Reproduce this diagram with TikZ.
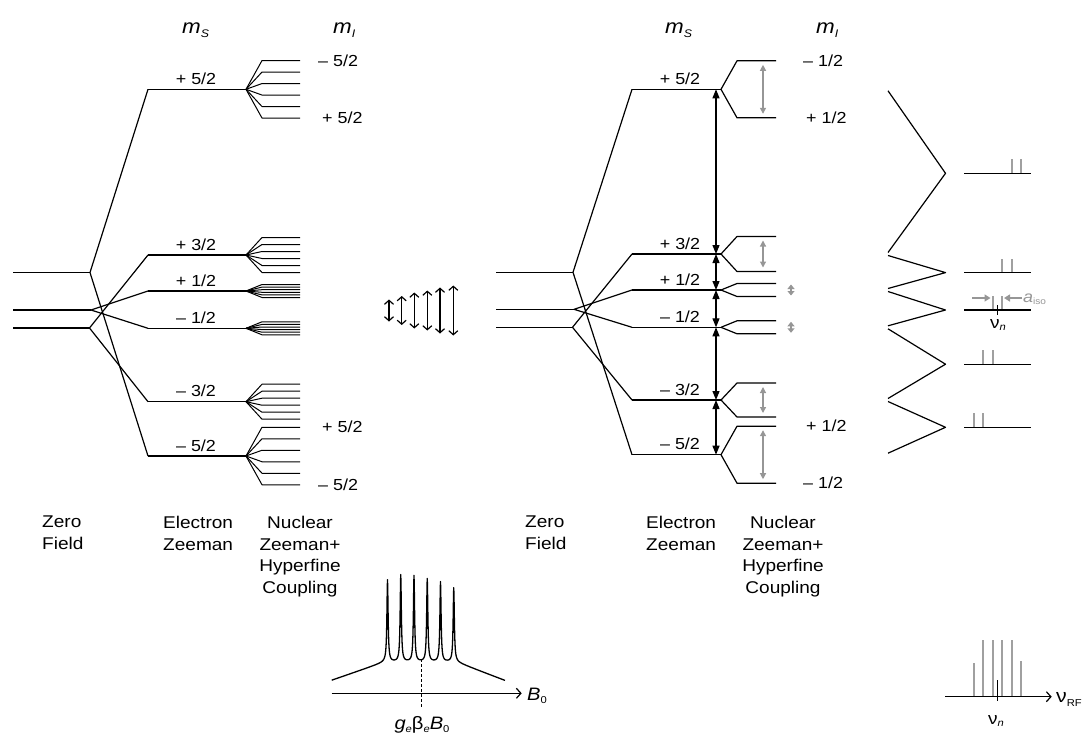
\documentclass[tikz,border=0pt]{standalone}
\usepackage{fontspec}
\setmainfont{Liberation Sans}[FakeStretch=1.12]
\usetikzlibrary{arrows.meta}
\definecolor{hfgray}{RGB}{150,150,150}
\definecolor{stickgray}{RGB}{160,160,160}
\begin{document}
\begin{tikzpicture}[x=1pt,y=-1pt,
  lvl/.style={line width=1.2pt, line join=round},
  hf/.style={line width=1pt, line join=round},
  lab/.style={font=\fontsize{16}{18}\selectfont, inner sep=0pt},
  capt/.style={font=\fontsize{17}{21.5}\selectfont, inner sep=0pt, anchor=north},
  openarr/.style={line width=1.2pt, {Straight Barb[length=4pt,width=9pt]}-{Straight Barb[length=4pt,width=9pt]}},
  axarr/.style={line width=1.2pt, -{Straight Barb[length=4.5pt,width=10pt]}},
  blkarr/.style={line width=1.2pt, {Triangle[length=9pt,width=7pt]}-{Triangle[length=9pt,width=7pt]}},
  grayarr/.style={hfgray, line width=1.2pt, {Triangle[length=6pt,width=6pt]}-{Triangle[length=6pt,width=6pt]}},
  smallarr/.style={hfgray, line width=1.2pt, {Triangle[length=4.5pt,width=7pt]}-{Triangle[length=4.5pt,width=7pt]}},
  stick/.style={stickgray, line width=2pt},
  pointarr/.style={hfgray, line width=1.8pt, -{Triangle[length=6pt,width=7pt]}}
]
\useasboundingbox (0,0) rectangle (1089,734);

% ================= LEFT DIAGRAM =================
\node[anchor=base west, inner sep=0pt] (LmS) at (182,33) {\fontsize{20}{20}\selectfont\itshape m\raisebox{-4pt}{\fontsize{11}{11}\selectfont S}};
\node[anchor=base west, inner sep=0pt] (LmI) at (333,33) {\fontsize{20}{20}\selectfont\itshape m\raisebox{-4pt}{\fontsize{11}{11}\selectfont I}};

\coordinate (LZa0) at (13,272.5); \coordinate (LZa) at (90,272.5);
\coordinate (LZb0) at (13,310);   \coordinate (LZb) at (91,310);
\coordinate (LZc0) at (13,328);   \coordinate (LZc) at (89.5,328);
\foreach \n/\y in {p5/89.3, p3/255, p1/291, m1/328.3, m3/401.7, m5/456}{
  \coordinate (L\n s) at (148,\y);
  \coordinate (L\n e) at (246,\y);
}
\draw[lvl] (LZa0) -- (LZa);
\draw[lvl] (LZb0) -- (LZb);
\draw[lvl] (LZc0) -- (LZc);
\draw[lvl] (Lp5s) -- (LZa) -- (Lm5s);
\draw[lvl] (Lp3s) -- (LZc) -- (Lm3s);
\draw[lvl] (Lp1s) -- (LZb) -- (Lm1s);
\foreach \n in {p5,p3,p1,m1,m3,m5}{ \draw[lvl] (L\n s) -- (L\n e); }
\foreach \n/\y/\d in {p5/89.3/11.5, p3/255/7, p1/291/2.6, m1/328.3/2.6, m3/401.7/7, m5/456/11.5}{
  \foreach \k in {-2.5,-1.5,-0.5,0.5,1.5,2.5}{
    \draw[hf] (L\n e) -- (262,{\y+\d*\k}) -- (300,{\y+\d*\k});
  }
}
\node[lab, anchor=base] (Llp5) at (196,84.3) {+ 5/2};
\node[lab, anchor=base] (Llp3) at (196,250) {+ 3/2};
\node[lab, anchor=base] (Llp1) at (196,286) {+ 1/2};
\node[lab, anchor=base] (Llm1) at (196,323.3) {– 1/2};
\node[lab, anchor=base] (Llm3) at (196,396.7) {– 3/2};
\node[lab, anchor=base] (Llm5) at (196,451) {– 5/2};
\node[lab, anchor=west] (LIa) at (318,61) {– 5/2};
\node[lab, anchor=west] (LIb) at (322,118) {+ 5/2};
\node[lab, anchor=west] (LIc) at (322,427) {+ 5/2};
\node[lab, anchor=west] (LId) at (318,485) {– 5/2};

\node[capt, anchor=north west, align=left] (Lzf) at (42,516) {Zero\\Field};
\node[capt, anchor=north west, align=left] (Lez) at (163,516) {Electron\\Zeeman};
\node[capt, align=center] (Lnz) at (300,516) {Nuclear\\Zeeman+\\Hyperfine\\Coupling};

% middle arrows
\foreach \x/\h [count=\i] in {389/11, 401.7/14.5, 414.3/18, 427.3/20, 440/23, 453.3/25}{
  \coordinate (MA\i t) at (\x,{310.5-\h});
  \coordinate (MA\i b) at (\x,{310.5+\h});
  \draw[openarr] (MA\i t) -- (MA\i b);
}

% EPR spectrum
\coordinate (Bax0) at (331.7,693.3); \coordinate (Bax1) at (521.7,693.3);
\draw[axarr] (Bax0) -- (Bax1);
\node[anchor=base west, inner sep=0pt] (B0lab) at (527,700) {\fontsize{18}{18}\selectfont\itshape B\raisebox{-3pt}{\fontsize{10}{10}\selectfont\upshape 0}};
\coordinate (Gd0) at (421.7,659); \coordinate (Gd1) at (421.7,708);
\draw[line width=1pt, dash pattern=on 3pt off 2pt] (Gd0) -- (Gd1);
\node[anchor=base, inner sep=0pt] (Glab) at (422,729) {\fontsize{18}{18}\selectfont\itshape g\raisebox{-3pt}{\fontsize{10}{10}\selectfont e}\upshape β\raisebox{-3pt}{\fontsize{10}{10}\selectfont\itshape e}\itshape B\raisebox{-3pt}{\fontsize{10}{10}\selectfont\upshape 0}};
\draw[line width=1.3pt, line join=round] plot[domain=-8.825:8.5, samples=694]
  ({420+10*\x},{662 + 3.45*max(0,-3.55-\x) + 3.8*max(0,\x-3.65)
    - 0.41/((\x+3.25)^2+0.005) - 0.435/((\x+1.925)^2+0.005) - 0.43/((\x+0.6)^2+0.005)
    - 0.415/((\x-0.725)^2+0.005) - 0.40/((\x-2.05)^2+0.005) - 0.37/((\x-3.375)^2+0.005)});

% ================= RIGHT DIAGRAM =================
\node[anchor=base west, inner sep=0pt] (RmS) at (665,33) {\fontsize{20}{20}\selectfont\itshape m\raisebox{-4pt}{\fontsize{11}{11}\selectfont S}};
\node[anchor=base west, inner sep=0pt] (RmI) at (816,33) {\fontsize{20}{20}\selectfont\itshape m\raisebox{-4pt}{\fontsize{11}{11}\selectfont I}};

\coordinate (RZa0) at (496,272.3); \coordinate (RZa) at (573,272.3);
\coordinate (RZb0) at (496,309.3); \coordinate (RZb) at (574,309.3);
\coordinate (RZc0) at (496,327.3); \coordinate (RZc) at (572.5,327.3);
\foreach \n/\y in {p5/89.3, p3/254, p1/290, m1/327.3, m3/400, m5/454.7}{
  \coordinate (R\n s) at (632,\y);
  \coordinate (R\n e) at (721,\y);
  \coordinate (R\n a) at (716,\y);
}
\draw[lvl] (RZa0) -- (RZa);
\draw[lvl] (RZb0) -- (RZb);
\draw[lvl] (RZc0) -- (RZc);
\draw[lvl] (Rp5s) -- (RZa) -- (Rm5s);
\draw[lvl] (Rp3s) -- (RZc) -- (Rm3s);
\draw[lvl] (Rp1s) -- (RZb) -- (Rm1s);
\foreach \n in {p5,p3,p1,m1,m3,m5}{ \draw[lvl] (R\n s) -- (R\n e); }
\foreach \n/\y/\d in {p5/89.3/28.5, p3/254/17.5, p1/290/6.5, m1/327.3/6.5, m3/400/17, m5/454.7/28.5}{
  \foreach \k in {-1,1}{
    \draw[hf, line width=1.2pt] (R\n e) -- (737,{\y+\d*\k}) -- (776,{\y+\d*\k});
  }
}
\draw[blkarr] (Rp5a) -- (Rp3a);
\draw[blkarr] (Rp3a) -- (Rp1a);
\draw[blkarr] (Rp1a) -- (Rm1a);
\draw[blkarr] (Rm1a) -- (Rm3a);
\draw[blkarr] (Rm3a) -- (Rm5a);
\foreach \n/\y/\d in {p5/89.3/24.5, p3/254/13.5, m3/400/13, m5/454.7/24.5}{
  \coordinate (RG\n t) at (763,{\y-\d});
  \coordinate (RG\n b) at (763,{\y+\d});
  \draw[grayarr] (RG\n t) -- (RG\n b);
}
\foreach \n/\y in {p1/290, m1/327.3}{
  \coordinate (RS\n t) at (791,{\y-5.5});
  \coordinate (RS\n b) at (791,{\y+5.5});
  \draw[smallarr] (RS\n t) -- (RS\n b);
}
\node[lab, anchor=base] (Rlp5) at (680,84.3) {+ 5/2};
\node[lab, anchor=base] (Rlp3) at (680,249) {+ 3/2};
\node[lab, anchor=base] (Rlp1) at (680,285) {+ 1/2};
\node[lab, anchor=base] (Rlm1) at (680,322.3) {– 1/2};
\node[lab, anchor=base] (Rlm3) at (680,395) {– 3/2};
\node[lab, anchor=base] (Rlm5) at (680,449.7) {– 5/2};
\node[lab, anchor=west] (RIa) at (803,61) {– 1/2};
\node[lab, anchor=west] (RIb) at (806,118) {+ 1/2};
\node[lab, anchor=west] (RIc) at (806,426.2) {+ 1/2};
\node[lab, anchor=west] (RId) at (803,483.2) {– 1/2};

\node[capt, anchor=north west, align=left] (Rzf) at (525,516) {Zero\\Field};
\node[capt, anchor=north west, align=left] (Rez) at (646,516) {Electron\\Zeeman};
\node[capt, align=center] (Rnz) at (783,516) {Nuclear\\Zeeman+\\Hyperfine\\Coupling};

% ================= ENDOR PANEL =================
\foreach \a/\m/\b [count=\i] in {89.3/173.3/254, 254/272.6/290, 290/310/327.3, 327.3/364.2/400, 400/427.3/454.7}{
  \coordinate (Zt\i) at (888,{\a+1.5});
  \coordinate (Zm\i) at (945.5,\m);
  \coordinate (Zb\i) at (888,{\b-1.5});
  \draw[lvl] (Zt\i) -- (Zm\i) -- (Zb\i);
}
\foreach \m/\ja/\jb [count=\i] in {173.3/4/5, 272.6/3/4, 310/2/3, 364.2/1/2, 427.3/0/1}{
  \draw[stick] ({973.5+9.55*\ja},\m) -- ({973.5+9.55*\ja},{\m-14});
  \draw[stick] ({973.5+9.55*\jb},\m) -- ({973.5+9.55*\jb},{\m-14});
  \coordinate (El\i a) at (964,\m);
  \coordinate (El\i b) at (1031,\m);
  \draw[lvl] (El\i a) -- (El\i b);
}
\coordinate (Tn0) at (997.4,305); \coordinate (Tn1) at (997.4,315);
\draw[line width=1.5pt] (Tn0) -- (Tn1);
\coordinate (Aa0) at (972,298); \coordinate (Aa1) at (990.5,298);
\coordinate (Ab0) at (1022,298); \coordinate (Ab1) at (1004,298);
\draw[pointarr] (Aa0) -- (Aa1);
\draw[pointarr] (Ab0) -- (Ab1);
\node[anchor=base west, inner sep=0pt, text=hfgray] (aiso) at (1023,302) {\fontsize{16}{16}\selectfont\itshape a\raisebox{-2.5pt}{\fontsize{9}{9}\selectfont\upshape iso}};
\node[anchor=base west, inner sep=0pt] (nun1) at (990,328) {\fontsize{17}{17}\selectfont ν\raisebox{-2.5pt}{\fontsize{10}{10}\selectfont\itshape n}};

% ENDOR spectrum
\foreach \j/\t in {0/662.7, 1/640, 2/640, 3/640, 4/640, 5/661}{
  \draw[stick] ({973.5+9.55*\j},696.7) -- ({973.5+9.55*\j},\t);
}
\coordinate (Nax0) at (945,696.7); \coordinate (Nax1) at (1051.7,696.7);
\draw[axarr] (Nax0) -- (Nax1);
\coordinate (Nt0) at (997.4,680); \coordinate (Nt1) at (997.4,701);
\draw[line width=1.8pt] (Nt0) -- (Nt1);
\node[anchor=base west, inner sep=0pt] (nun2) at (988,724) {\fontsize{17}{17}\selectfont ν\raisebox{-2.5pt}{\fontsize{10}{10}\selectfont\itshape n}};
\node[anchor=base west, inner sep=0pt] (nurf) at (1056,702) {\fontsize{19}{19}\selectfont ν\raisebox{-4pt}{\fontsize{10}{10}\selectfont RF}};
\end{tikzpicture}
\end{document}
